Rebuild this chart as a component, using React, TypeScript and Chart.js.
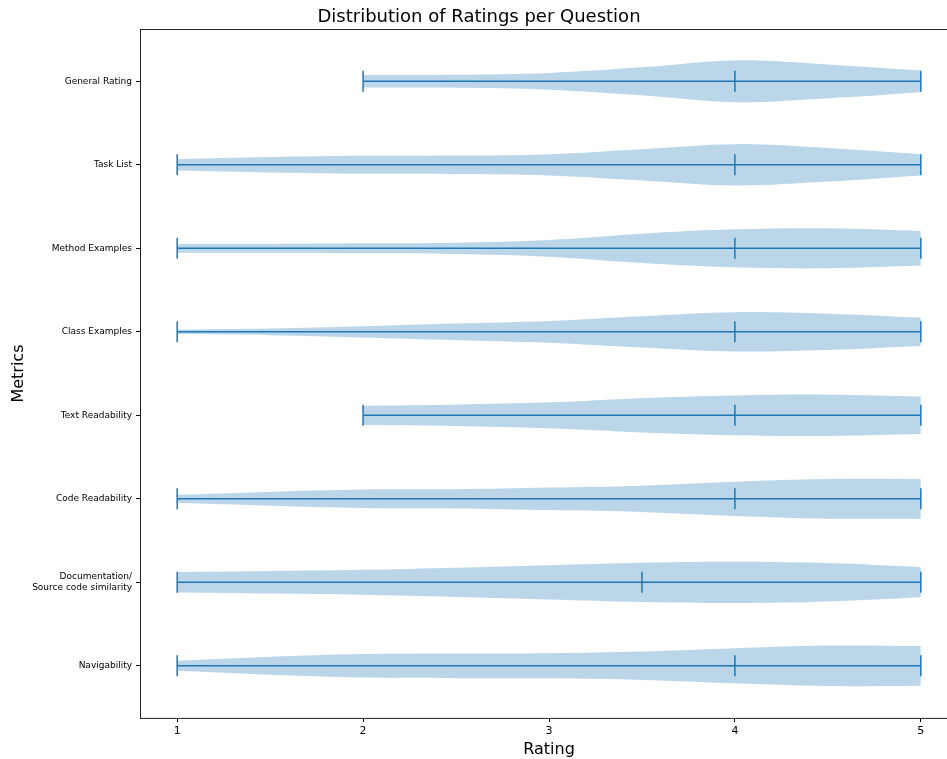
import React, { useEffect, useRef } from "react";
import { Chart, registerables } from "chart.js";

Chart.register(...registerables);

// Categories, bottom (position 1) to top (position 8)
const METRICS = [
  "Navigability",
  "Documentation/\nSource code similarity",
  "Code Readability",
  "Text Readability",
  "Class Examples",
  "Method Examples",
  "Task List",
  "General Rating",
];

// Rating grid at which the violin density is read
const GRID_X = [1, 1.5, 2, 2.5, 3, 3.5, 4, 4.5, 5];

// Relative density (1 = widest part) per metric, null = outside data range
const D_NAVIGABILITY = [0.24, 0.43, 0.56, 0.59, 0.6, 0.68, 0.84, 0.97, 0.95];
const D_DOCUMENTATION = [0.49, 0.54, 0.6, 0.7, 0.82, 0.94, 0.99, 0.92, 0.72];
const D_CODE_READ = [0.19, 0.33, 0.44, 0.46, 0.54, 0.63, 0.82, 0.95, 0.95];
const D_TEXT_READ = [null, null, 0.46, 0.51, 0.62, 0.82, 0.95, 0.99, 0.9];
const D_CLASS_EX = [0.11, 0.16, 0.27, 0.4, 0.52, 0.75, 0.94, 0.87, 0.68];
const D_METHOD_EX = [0.21, 0.21, 0.24, 0.27, 0.4, 0.7, 0.91, 0.96, 0.83];
const D_TASK_LIST = [0.27, 0.37, 0.43, 0.44, 0.51, 0.75, 0.99, 0.8, 0.51];
const D_GENERAL = [null, null, 0.3, 0.31, 0.4, 0.67, 1.0, 0.81, 0.52];

const DENSITIES = [
  D_NAVIGABILITY,
  D_DOCUMENTATION,
  D_CODE_READ,
  D_TEXT_READ,
  D_CLASS_EX,
  D_METHOD_EX,
  D_TASK_LIST,
  D_GENERAL,
];

const MINS = [1, 1, 1, 2, 1, 1, 1, 2];
const MAXS = [5, 5, 5, 5, 5, 5, 5, 5];
const MEDIANS = [4, 3.5, 4, 4, 4, 4, 4, 4];

const X_TICKS = [1, 2, 3, 4, 5];

const BLUE = "#1f77b4";
const BODY = "rgba(31,119,180,0.3)";
const HALF_WIDTH = 0.25;
const CAP = 0.125;
const FONT = "'DejaVu Sans', sans-serif";

const frame = {
  id: "frame",
  afterDatasetsDraw(chart: any) {
    const { ctx, chartArea } = chart;
    ctx.save();
    ctx.strokeStyle = "#222";
    ctx.lineWidth = 1;
    ctx.strokeRect(
      Math.round(chartArea.left) + 0.5,
      Math.round(chartArea.top) + 0.5,
      chartArea.right - chartArea.left,
      chartArea.bottom - chartArea.top
    );
    ctx.restore();
  },
};

export default function App() {
  const ref = useRef<HTMLCanvasElement | null>(null);

  useEffect(() => {
    if (!ref.current) return;
    const datasets: any[] = [];

    METRICS.forEach((_, i) => {
      const pos = i + 1;
      const dens = DENSITIES[i];
      const upper: any[] = [];
      const lower: any[] = [];
      GRID_X.forEach((x, k) => {
        const d = dens[k];
        if (d === null || d === undefined) return;
        upper.push({ x, y: pos + d * HALF_WIDTH });
        lower.push({ x, y: pos - d * HALF_WIDTH });
      });
      const bodyBase = {
        type: "line",
        borderWidth: 0,
        borderColor: "rgba(0,0,0,0)",
        backgroundColor: BODY,
        pointRadius: 0,
        tension: 0.35,
        order: 2,
      };
      datasets.push({ ...bodyBase, data: upper, fill: false });
      datasets.push({ ...bodyBase, data: lower, fill: "-1" });

      const lineBase = {
        type: "line",
        borderColor: BLUE,
        borderWidth: 1.5,
        pointRadius: 0,
        fill: false,
        order: 0,
      };
      datasets.push({
        ...lineBase,
        data: [
          { x: MINS[i], y: pos },
          { x: MAXS[i], y: pos },
        ],
      });
      [MINS[i], MAXS[i], MEDIANS[i]].forEach((v) => {
        datasets.push({
          ...lineBase,
          data: [
            { x: v, y: pos - CAP },
            { x: v, y: pos + CAP },
          ],
        });
      });
    });

    const chart = new Chart(ref.current, {
      type: "scatter",
      data: { datasets },
      plugins: [frame],
      options: {
        responsive: false,
        animation: false,
        devicePixelRatio: 1,
        showLine: true,
        layout: { padding: { left: 0, right: 8, top: 0, bottom: 0 } },
        plugins: {
          legend: { display: false },
          tooltip: { enabled: false },
          title: {
            display: true,
            text: "Distribution of Ratings per Question",
            color: "#000",
            font: { family: FONT, size: 18, weight: "normal" },
            padding: { top: 7, bottom: 0.5 },
          },
        },
        scales: {
          x: {
            type: "linear",
            min: 0.8,
            max: 5.2,
            afterBuildTicks: (s: any) => {
              s.ticks = X_TICKS.map((v) => ({ value: v }));
            },
            afterFit: (s: any) => {
              s.height = 41;
            },
            ticks: {
              color: "#000",
              font: { family: FONT, size: 11 },
              padding: 3,
              maxRotation: 0,
              callback: (v: any) => String(v),
            },
            grid: {
              display: true,
              drawOnChartArea: false,
              drawTicks: true,
              tickLength: 4,
              color: "#000",
            },
            border: { display: false },
            title: {
              display: true,
              text: "Rating",
              color: "#000",
              font: { family: FONT, size: 16 },
              padding: { top: 2, bottom: 0 },
            },
          },
          y: {
            type: "linear",
            min: 0.375,
            max: 8.625,
            afterBuildTicks: (s: any) => {
              s.ticks = METRICS.map((_, i) => ({ value: i + 1 }));
            },
            afterFit: (s: any) => {
              s.width = 140;
            },
            ticks: {
              color: "#000",
              font: { family: FONT, size: 9 },
              padding: 4,
              callback: (v: any) => {
                const label = METRICS[Math.round(v) - 1];
                return label ? label.split("\n") : "";
              },
            },
            grid: {
              display: true,
              drawOnChartArea: false,
              drawTicks: true,
              tickLength: 4,
              color: "#000",
            },
            border: { display: false },
            title: {
              display: true,
              text: "Metrics",
              color: "#000",
              font: { family: FONT, size: 16 },
              padding: { top: 9, bottom: 0 },
            },
          },
        },
      },
    } as any);

    return () => chart.destroy();
  }, []);

  return (
    <div
      style={{
        position: "fixed",
        left: 0,
        top: 0,
        width: 947,
        height: 759,
        overflow: "hidden",
        background: "#fff",
      }}
    >
      <canvas ref={ref} width={966} height={759} style={{ display: "block" }} />
    </div>
  );
}
